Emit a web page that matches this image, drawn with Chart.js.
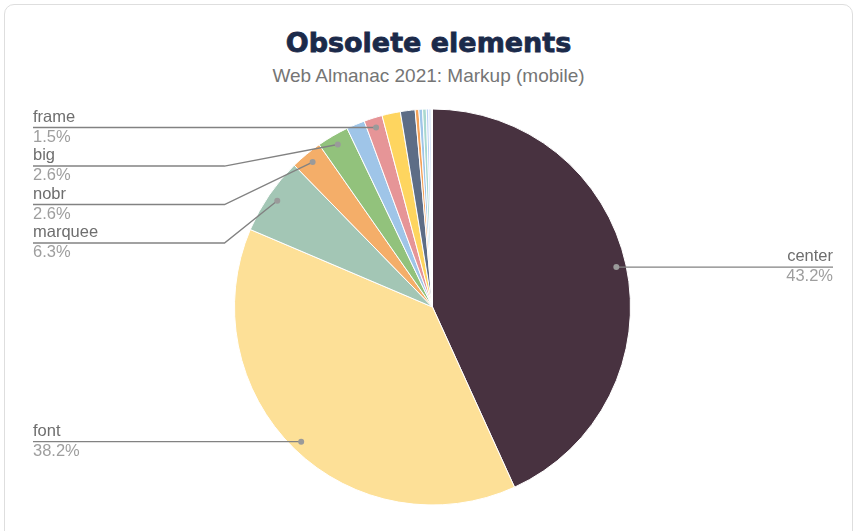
<!DOCTYPE html>
<html>
<head>
<meta charset="utf-8">
<script src="https://cdn.jsdelivr.net/npm/chart.js@4/dist/chart.umd.min.js"></script>
<style>
  html, body { margin: 0; padding: 0; background: #fff; }
  #wrap { position: relative; width: 855px; height: 531px; overflow: hidden; }
  #card { position: absolute; left: 4px; top: 4px; width: 847px; height: 600px;
          border: 1px solid #dedede; border-radius: 10px; }
  #title { position: absolute; left: 4px; width: 849px; top: 29px; text-align: center;
           font: bold 27px "DejaVu Sans", sans-serif; line-height: 27px; color: #1b2a4a;
           -webkit-text-stroke: 0.8px #1b2a4a; }
  #subtitle { position: absolute; left: 4px; width: 849px; top: 66px; text-align: center;
              font: 19px "Liberation Sans", Arial, sans-serif; line-height: 19px; color: #757575; }
  canvas { position: absolute; left: 0; top: 0; }
</style>
</head>
<body>
<div id="wrap">
  <div id="card"></div>
  <div id="title">Obsolete elements</div>
  <div id="subtitle">Web Almanac 2021: Markup (mobile)</div>
  <canvas id="pie_chart" width="855" height="531"></canvas>
</div>
<script>
var categories = ['center', 'font', 'marquee', 'nobr', 'big', 'frameset', 'frame', 'strike',
                  'tt', 'acronym', 'applet', 'basefont', 'blink', 'spacer', 'dir'];
var shares = [43.2, 38.2, 6.3, 2.6, 2.6, 1.5, 1.5, 1.5, 1.2, 0.3, 0.3, 0.3, 0.2, 0.2, 0.1];
var sliceColors = ['#483240', '#fde097', '#a3c6b5', '#f4ae69', '#92c27c', '#9fc5e8', '#e69597',
                   '#fed55f', '#5d6d86', '#f4a259', '#9fc5e8', '#a9d8cf', '#b9d0f5', '#d8e5f8', '#eef3fb'];
// slices that get a leader label (the rest had no room in the original)
var labelled = ['center', 'font', 'marquee', 'nobr', 'big', 'frame'];

(function () {
    'use strict';

    //Leader-line labels like the sheets pie
    var leaderLabels = {
        id: 'leaderLabels',
        afterDatasetsDraw: function (chart) {
            var ctx = chart.ctx;
            var meta = chart.getDatasetMeta(0);
            var values = chart.data.datasets[0].data;
            var left = [], right = [];
            meta.data.forEach(function (arc, i) {
                if (labelled.indexOf(chart.data.labels[i]) < 0) return;
                var p = arc.getProps(['x', 'y', 'startAngle', 'endAngle', 'outerRadius'], true);
                var mid = (p.startAngle + p.endAngle) / 2;
                var r = p.outerRadius * 0.95;
                var item = {
                    i: i, cx: p.x, R: p.outerRadius,
                    px: p.x + Math.cos(mid) * r,
                    py: p.y + Math.sin(mid) * r
                };
                (Math.cos(mid) >= 0 ? right : left).push(item);
            });

            function place(list) {
                list.sort(function (a, b) { return a.py - b.py; });
                var prev = -1e9;
                list.forEach(function (it) {
                    it.ly = Math.max(it.py, prev + 38.5);
                    prev = it.ly;
                });
            }
            place(left);
            place(right);

            ctx.save();
            ctx.font = '16.5px "Liberation Sans", Arial, sans-serif';
            ctx.lineWidth = 1.4;
            ctx.strokeStyle = '#828282';

            function draw(it, isLeft) {
                var textX = isLeft ? 33 : 833;
                var elbowX = isLeft ? it.cx - it.R - 10 : it.cx + it.R + 10;
                ctx.beginPath();
                ctx.moveTo(textX, it.ly);
                if (Math.abs(it.ly - it.py) > 0.5) ctx.lineTo(elbowX, it.ly);
                ctx.lineTo(it.px, it.py);
                ctx.stroke();

                ctx.beginPath();
                ctx.arc(it.px, it.py, 3, 0, Math.PI * 2);
                ctx.fillStyle = '#9a9a9a';
                ctx.fill();

                ctx.textAlign = isLeft ? 'left' : 'right';
                ctx.textBaseline = 'alphabetic';
                ctx.fillStyle = '#6e6e6e';
                ctx.fillText(chart.data.labels[it.i], textX, it.ly - 6);
                ctx.textBaseline = 'top';
                ctx.fillStyle = '#9e9e9e';
                ctx.fillText(values[it.i].toFixed(1) + '%', textX, it.ly + 1.5);
            }
            left.forEach(function (it) { draw(it, true); });
            right.forEach(function (it) { draw(it, false); });
            ctx.restore();
        }
    };

    //Init pie chart
    var config = {
        type: 'pie',
        data: {
            labels: categories,
            datasets: [{
                data: shares,
                backgroundColor: sliceColors,
                borderColor: '#ffffff',
                borderWidth: 1
            }]
        },
        options: {
            responsive: false,
            animation: false,
            devicePixelRatio: 1,
            layout: { padding: { left: 234, right: 224, top: 108, bottom: 25 } },
            plugins: {
                legend: { display: false },
                tooltip: { enabled: false }
            }
        },
        plugins: [leaderLabels]
    };

    var chart = new Chart(document.getElementById('pie_chart').getContext('2d'), config);
}());
</script>
</body>
</html>
